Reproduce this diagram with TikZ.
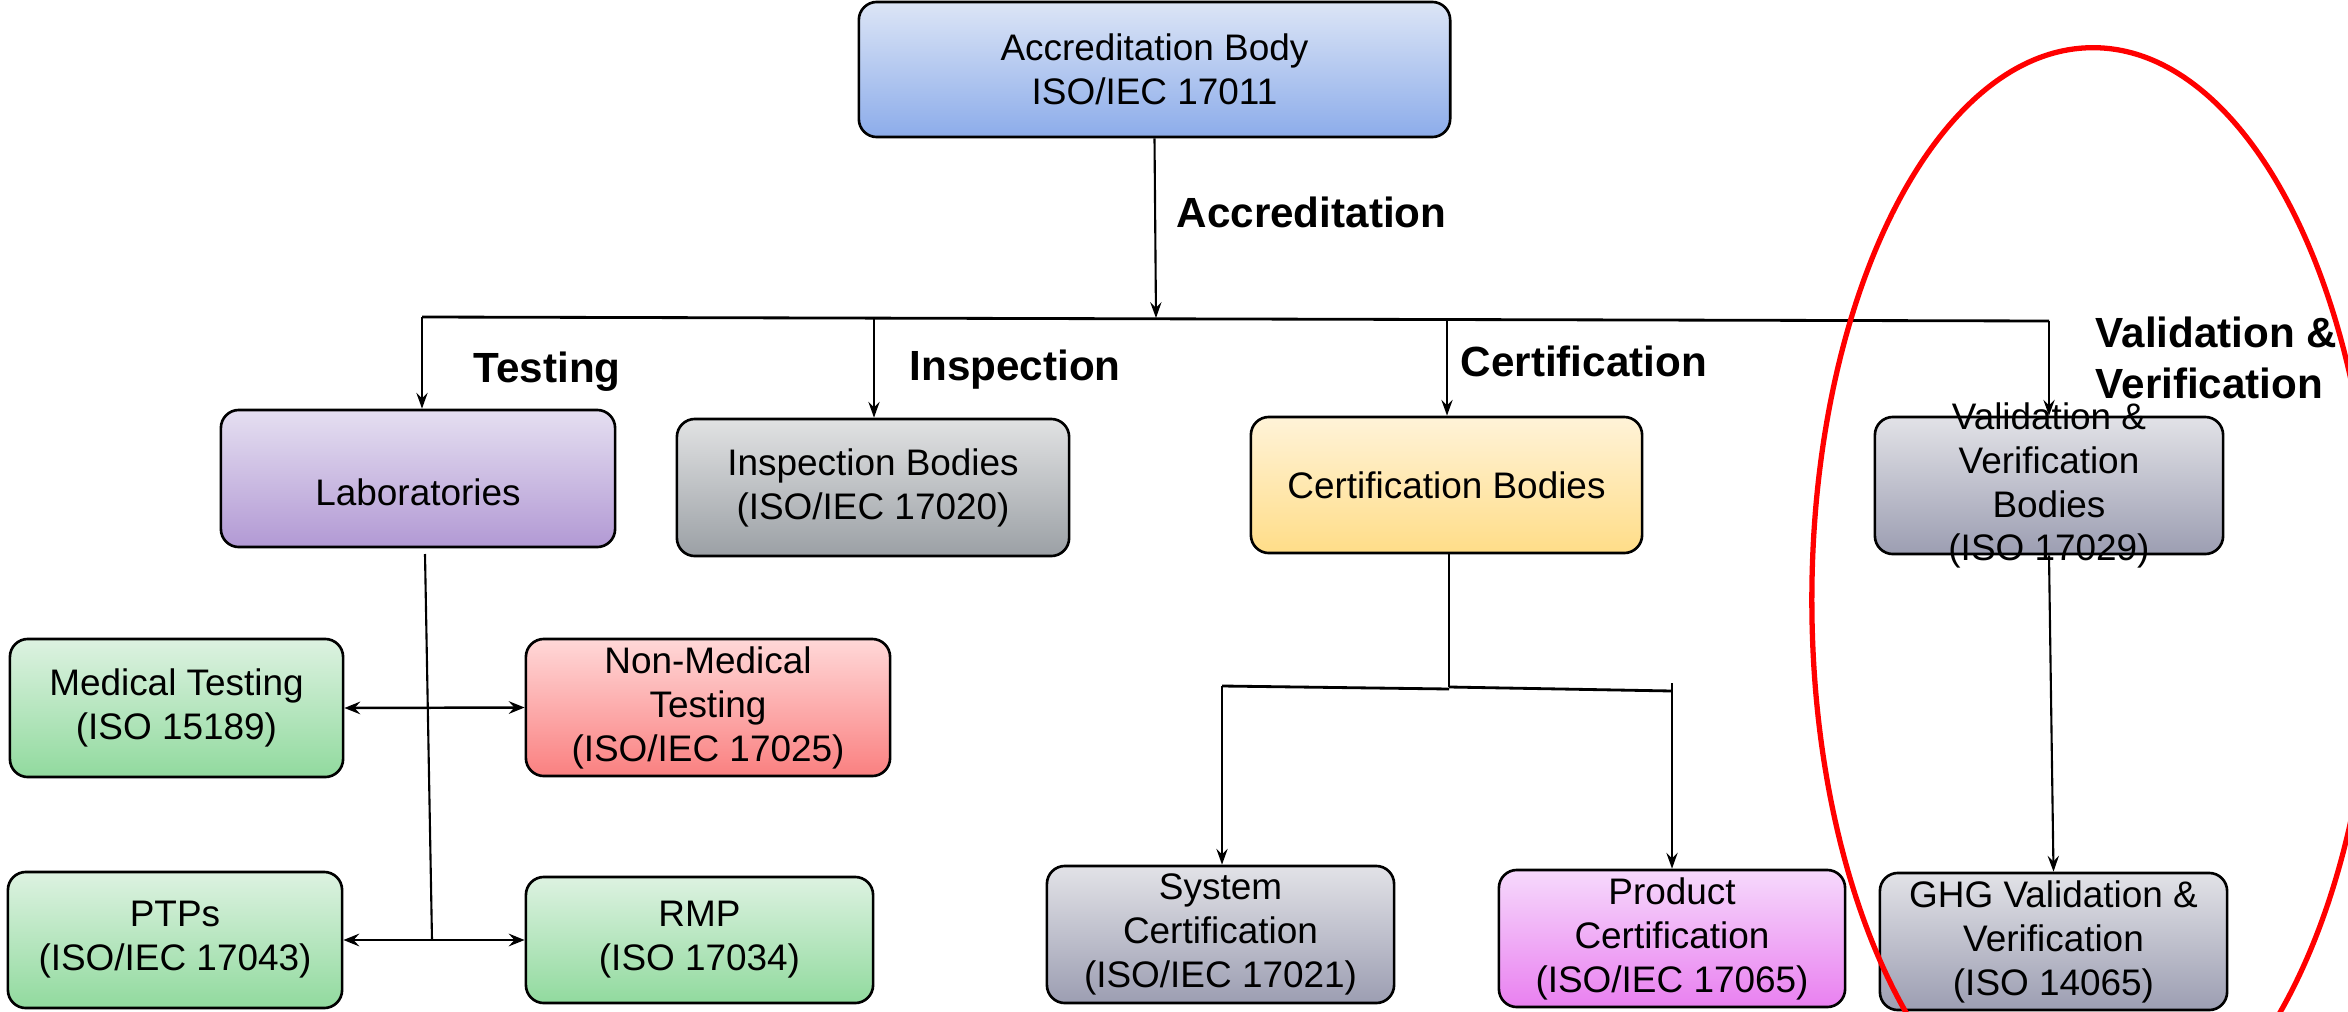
\documentclass[tikz,border=0pt]{standalone}
\usepackage{fontspec}
\setmainfont{Liberation Sans}
\usetikzlibrary{arrows.meta}
\definecolor{accT}{RGB}{220,229,246}
\definecolor{accB}{RGB}{140,172,234}
\definecolor{labT}{RGB}{229,223,241}
\definecolor{labB}{RGB}{178,153,212}
\definecolor{grT}{RGB}{225,226,227}
\definecolor{grB}{RGB}{155,160,165}
\definecolor{certT}{RGB}{255,243,216}
\definecolor{certB}{RGB}{255,221,136}
\definecolor{bgT}{RGB}{226,226,231}
\definecolor{bgB}{RGB}{156,158,178}
\definecolor{grnT}{RGB}{221,242,225}
\definecolor{grnB}{RGB}{145,218,158}
\definecolor{redT}{RGB}{255,216,216}
\definecolor{redB}{RGB}{250,128,128}
\definecolor{magT}{RGB}{246,217,252}
\definecolor{magB}{RGB}{233,128,240}
\begin{document}
\begin{tikzpicture}[x=0.01cm,y=-0.01cm,
  box/.style={draw=black, line width=0.75pt, rounded corners=0.18cm, inner sep=0pt},
  txt/.style={align=center, font=\fontsize{10.5}{12.5}\selectfont, inner sep=0pt},
  lbl/.style={font=\bfseries\fontsize{12}{14.5}\selectfont, anchor=base west, inner sep=0pt, align=left},
  conn/.style={line width=0.6pt, -{Stealth[length=4.5pt,width=3.2pt,inset=1.6pt]}},
  dconn/.style={line width=0.7pt, {Stealth[length=4.5pt,width=3.6pt,inset=1.6pt]}-{Stealth[length=4.5pt,width=3.6pt,inset=1.6pt]}},
  bar/.style={line width=0.8pt}
]
\path[use as bounding box] (0,0) rectangle (2348,1012);

% boxes
\node[box, top color=accT, bottom color=accB, minimum width=5.91cm, minimum height=1.35cm,
  label={[txt]center:{Accreditation Body\\ISO/IEC 17011}}] (acc) at (1154.5,69.5) {};
\node[box, top color=labT, bottom color=labB, minimum width=3.94cm, minimum height=1.37cm,
  label={[txt,yshift=-0.14cm]center:{Laboratories}}] (lab) at (418,478.5) {};
\node[box, top color=grT, bottom color=grB, minimum width=3.92cm, minimum height=1.37cm,
  label={[txt]center:{Inspection Bodies\\(ISO/IEC 17020)}}] (insp) at (873,487.5) {};
\node[box, top color=certT, bottom color=certB, minimum width=3.91cm, minimum height=1.36cm,
  label={[txt]center:{Certification Bodies}}] (cert) at (1446.5,485) {};
\node[box, top color=bgT, bottom color=bgB, minimum width=3.48cm, minimum height=1.37cm] (vvb) at (2049,485.5) {};
\node[box, top color=grnT, bottom color=grnB, minimum width=3.33cm, minimum height=1.38cm,
  label={[txt]center:{Medical Testing\\(ISO 15189)}}] (med) at (176.5,708) {};
\node[box, top color=redT, bottom color=redB, minimum width=3.64cm, minimum height=1.37cm,
  label={[txt]center:{Non-Medical\\Testing\\(ISO/IEC 17025)}}] (nonmed) at (708,707.5) {};
\node[box, top color=grnT, bottom color=grnB, minimum width=3.34cm, minimum height=1.36cm,
  label={[txt]center:{PTPs\\(ISO/IEC 17043)}}] (ptp) at (175,940) {};
\node[box, top color=grnT, bottom color=grnB, minimum width=3.47cm, minimum height=1.26cm,
  label={[txt]center:{RMP\\(ISO 17034)}}] (rmp) at (699.5,940) {};
\node[box, top color=bgT, bottom color=bgB, minimum width=3.47cm, minimum height=1.37cm,
  label={[txt]center:{System\\Certification\\(ISO/IEC 17021)}}] (sys) at (1220.5,934.5) {};
\node[box, top color=magT, bottom color=magB, minimum width=3.46cm, minimum height=1.37cm,
  label={[txt]center:{Product\\Certification\\(ISO/IEC 17065)}}] (prod) at (1672,938.5) {};
\node[box, top color=bgT, bottom color=bgB, minimum width=3.47cm, minimum height=1.37cm,
  label={[txt]center:{GHG Validation \&\\Verification\\(ISO 14065)}}] (ghg) at (2053.5,941.5) {};

% main distribution line
\coordinate (hL) at (422,317);
\coordinate (hR) at (2049,321);
\coordinate (hA) at (1156,318);
\coordinate (hI) at (874,318);
\coordinate (hC) at (1447,319);
\draw[bar] (hL) -- (hR);
\draw[conn] (acc.south) -- (hA);
\draw[conn] (hL) -- (hL |- lab.north);
\draw[conn] (hI) -- (hI |- insp.north);
\draw[conn] (hC) -- (hC |- cert.north);
\draw[conn] (hR) -- (vvb.north);

% laboratories branch
\coordinate (labS) at (425,554);
\coordinate (labB) at (432,940);
\draw[line width=0.6pt] (labS) -- (labB);
\draw[dconn] (med.east) -- (nonmed.west);
\draw[dconn] (ptp.east) -- (rmp.west);

% certification branch
\coordinate (cJ) at (1449,687);
\coordinate (cL) at (1222,686);
\coordinate (cLm) at (1449,689);
\coordinate (cR) at (1672,691);
\coordinate (cRt) at (1672,683);
\draw[bar] (cert.south -| cJ) -- (cJ);
\draw[bar] (cL) -- (cLm);
\draw[bar] (cJ) -- (cR);
\draw[line width=0.6pt] (cRt) -- (cR);
\draw[conn] (cL) -- (cL |- sys.north);
\draw[conn] (cRt) -- (cRt |- prod.north);

% validation branch
\draw[conn] (vvb.south) -- (ghg.north);

% texts of V&V body (overflowing the box)
\node[txt] (vvbtext) at (vvb.center) {Validation \&\\Verification\\Bodies\\(ISO 17029)};

% bold labels
\node[lbl] (lAcc) at (1176,227) {Accreditation};
\node[lbl] (lTest) at (473,382) {Testing};
\node[lbl] (lInsp) at (909,380) {Inspection};
\node[lbl] (lCert) at (1460,376) {Certification};
\node[lbl] (lVV) at (2095,398) {Validation \&\\Verification};

% red ellipse
\begin{scope}
\clip (0,0) rectangle (2348,1012);
\draw[red, line width=1.5pt] (2093,600) ellipse [x radius=2.81cm, y radius=5.52cm];
\end{scope}
\end{tikzpicture}
\end{document}
